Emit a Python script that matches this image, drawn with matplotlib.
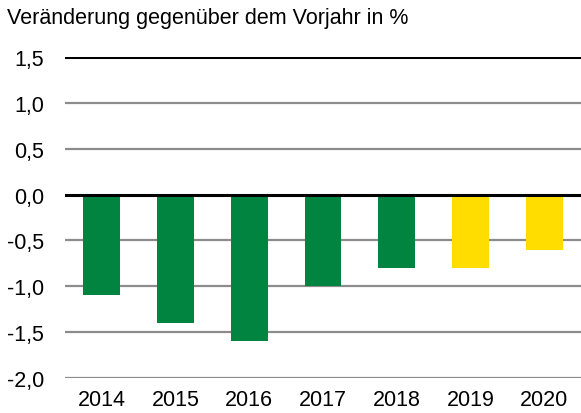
import matplotlib
matplotlib.use("Agg")
import matplotlib.pyplot as plt

years = ["2014", "2015", "2016", "2017", "2018", "2019", "2020"]
values = [-1.1, -1.4, -1.6, -1.0, -0.8, -0.8, -0.6]
colors = ["#00843F"] * 5 + ["#FFDD00"] * 2
yticks = [-2.0, -1.5, -1.0, -0.5, 0.0, 0.5, 1.0, 1.5]
title = "Veränderung gegenüber dem Vorjahr in %"

plt.rcParams['font.family'] = ['Liberation Sans', 'DejaVu Sans']

fig = plt.figure(figsize=(5.81, 4.14), dpi=100)
ax = fig.add_axes([0.112, 0.0845, 0.888, 0.7755])

x = list(range(len(years)))
ax.bar(x, values, width=0.5, color=colors, zorder=2)

for t in yticks:
    if t in (0.0, 1.5):
        ax.axhline(t, color="black", lw=2.2, zorder=3)
    else:
        ax.axhline(t, color="#8C8C8C", lw=1.6, zorder=1)

ax.set_xlim(-0.5, 6.5)
ax.set_ylim(-2.0, 1.5)
ax.set_yticks(yticks)
ax.set_yticklabels([f"{t:.1f}".replace(".", ",") for t in yticks], fontsize=15.5)
ax.set_xticks(x)
ax.set_xticklabels(years, fontsize=15.5)
ax.tick_params(length=0, axis="y", pad=15)
ax.tick_params(length=0, axis="x", pad=8)
for s in ax.spines.values():
    s.set_visible(False)
ax.patch.set_alpha(0)

fig.text(0.012, 0.955, title, fontsize=15.5, ha="left", va="center")

fig.savefig("out.png", dpi=100)
